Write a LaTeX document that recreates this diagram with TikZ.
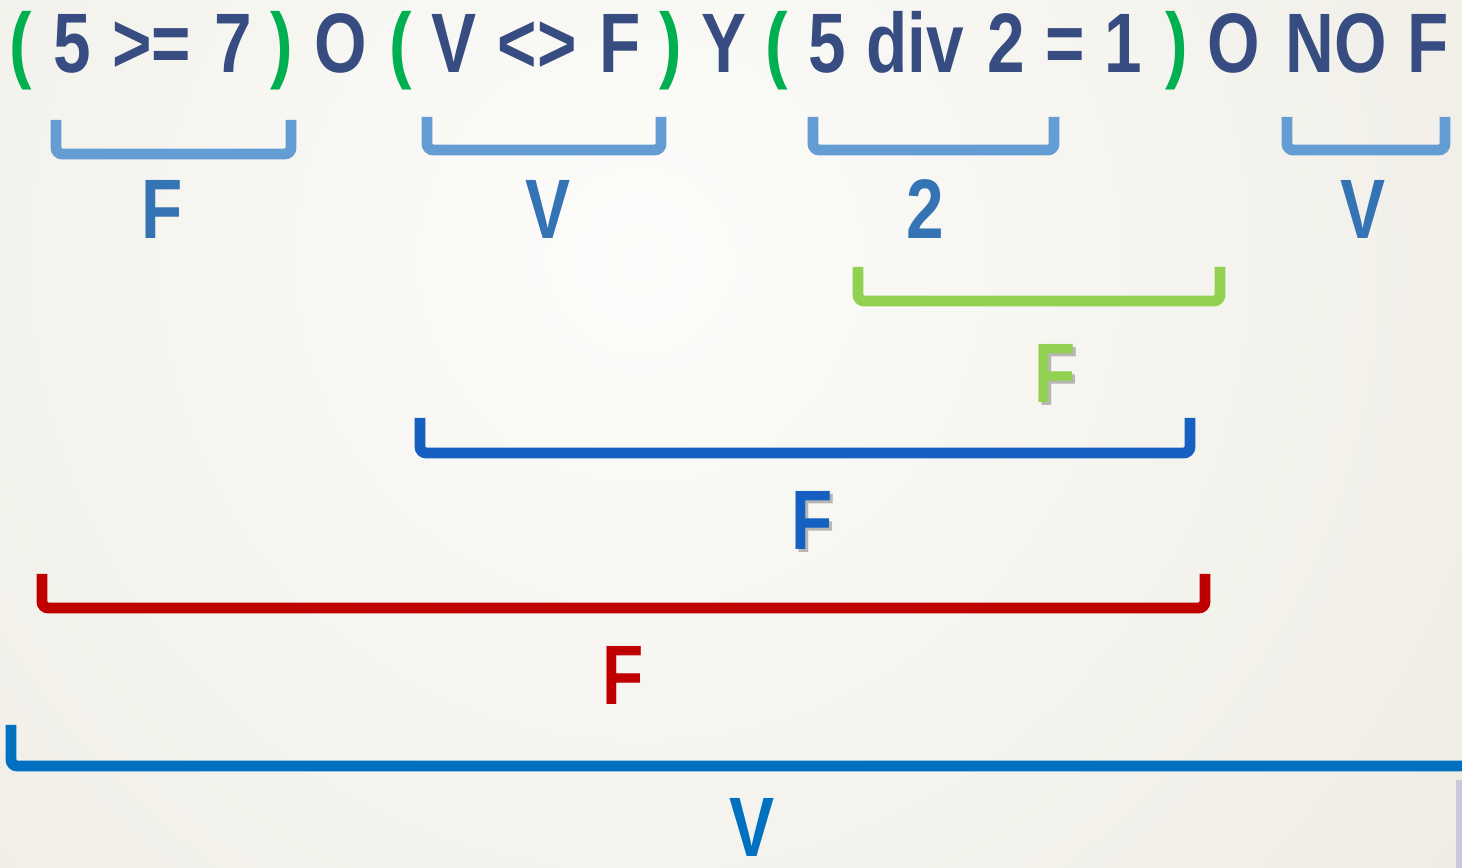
\documentclass[tikz,border=0pt]{standalone}
\usepackage{fontspec}
\setmainfont{Liberation Sans}[FakeStretch=0.8]
\usepackage{tikz}
\definecolor{navy}{HTML}{374C80}
\definecolor{pgreen}{HTML}{00B050}
\definecolor{lblue}{HTML}{639DD3}
\definecolor{mblue}{HTML}{3574B4}
\definecolor{lgreen}{HTML}{92D050}
\definecolor{dblue}{HTML}{1560C0}
\definecolor{dred}{HTML}{C00000}
\definecolor{vblue}{HTML}{0070C0}
\definecolor{bgin}{HTML}{FCFCFA}
\definecolor{bgout}{HTML}{E2DDCF}

\begin{document}
\begin{tikzpicture}[x=0.01cm, y=-0.01cm,
  every node/.style={font=\fontsize{24}{28}\selectfont\bfseries, inner sep=0pt, anchor=base},
  tok/.style={text=navy},
  paren/.style={text=pgreen},
  lbl/.style={text=mblue},
  brk/.style={line width=3.1pt, rounded corners=1.8pt},
  shad/.style={text=black!45, opacity=0.6}]
\useasboundingbox (0,0) rectangle (1462,868);
\begin{scope}
  \clip (0,0) rectangle (1462,868);
  \shade[inner color=bgin, outer color=bgout] (640,260) circle (2000);
\end{scope}
\fill[fill=blue!20!gray!35] (1456,780) rectangle (1462,868);
% the expression
\node[paren] (p1) at (21,73) {(};
\node[tok] (a5) at (72,73) {5};
\node[tok] (ge) at (152,73) {>=};
\node[tok] (a7) at (233,73) {7};
\node[paren] (q1) at (282,73) {)};
\node[tok] (o1) at (341,73) {O};
\node[paren] (p2) at (401,73) {(};
\node[tok] (v1) at (454,73) {V};
\node[tok] (ne) at (537,73) {<>};
\node[tok] (f1) at (620,73) {F};
\node[paren] (q2) at (671,73) {)};
\node[tok] (y1) at (724,73) {Y};
\node[paren] (p3) at (777,73) {(};
\node[tok] (b5) at (827,73) {5};
\node[tok] (dv) at (915,73) {div};
\node[tok] (b2) at (1006,73) {2};
\node[tok] (eq) at (1065,73) {=};
\node[tok] (b1) at (1123,73) {1};
\node[paren] (q3) at (1177,73) {)};
\node[tok] (o2) at (1234,73) {O};
\node[tok] (no) at (1336,73) {NO};
\node[tok] (f2) at (1428,73) {F};
% first level
\draw[brk, lblue] (56,120) |- (291,154) -- (291,120);
\draw[brk, lblue] (427,117) |- (661,150) -- (661,117);
\draw[brk, lblue] (813,117) |- (1054,150) -- (1054,117);
\draw[brk, lblue] (1287,117) |- (1445,150) -- (1445,117);
\node[lbl] (r1) at (162,239) {F};
\node[lbl] (r2) at (548,239) {V};
\node[lbl] (r3) at (925,239) {2};
\node[lbl] (r4) at (1363,239) {V};
% 2 = 1
\draw[brk, lgreen] (858,267) |- (1220,301) -- (1220,267);
\node[shad] (s5) at (1058,406) {F};
\node[text=lgreen] (r5) at (1055,403) {F};
% Y
\draw[brk, dblue] (420,418) |- (1190,453) -- (1190,418);
\node[shad] (s6) at (815,553) {F};
\node[text=dblue] (r6) at (812,550) {F};
% O
\draw[brk, dred] (42,574) |- (1205,608) -- (1205,574);
\node[text=dred] (r7) at (623,705) {F};
% O NO
\draw[brk, vblue] (11,725) |- (1480,766);
\node[text=vblue] (r8) at (752,857) {V};
\end{tikzpicture}
\end{document}
